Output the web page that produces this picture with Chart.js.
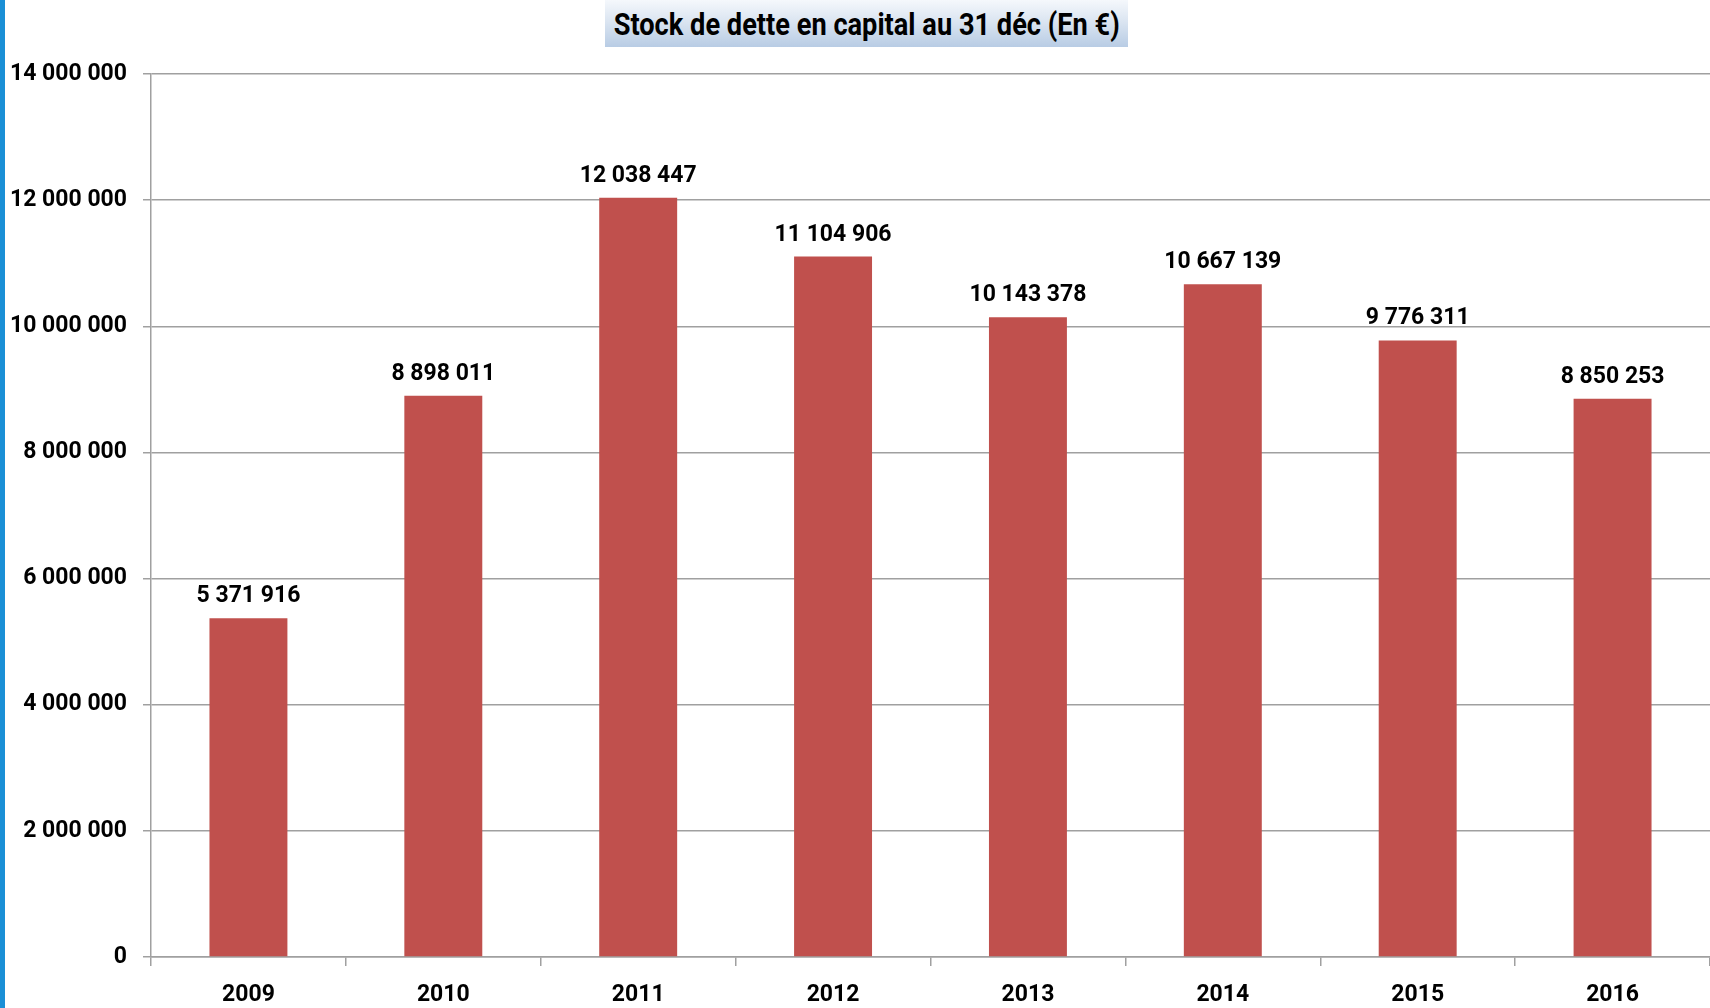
<!DOCTYPE html>
<html>
<head>
<meta charset="utf-8">
<script src="https://cdn.jsdelivr.net/npm/chart.js@4"></script>
<style>
  html, body { margin: 0; padding: 0; background: #fff; }
  #wrap { position: relative; width: 1710px; height: 1008px; overflow: hidden; }
  #edge { position: absolute; left: 0; top: 0; width: 5px; height: 1008px; background: #1a8fd6; }
  #title { position: absolute; left: 605px; top: 0; width: 523px; height: 47px;
    background: linear-gradient(to bottom, #f5f8fc 0%, #dbe5f1 45%, #b8cce4 100%);
    display: flex; justify-content: center; align-items: center; overflow: visible; }
  #title span { font-family: Roboto, sans-serif; font-weight: bold; font-size: 32px; color: #000;
    white-space: nowrap; display: inline-block; transform: scaleX(0.85); transform-origin: center; }
  canvas { position: absolute; left: 0; top: 0; }
</style>
</head>
<body>
<div id="wrap">
  <canvas id="c" width="1710" height="1008"></canvas>
  <div id="edge"></div>
  <div id="title"><span>Stock de dette en capital au 31 déc (En €)</span></div>
</div>
<script>
const categories = ["2009", "2010", "2011", "2012", "2013", "2014", "2015", "2016"];
const stockValues = [5371916, 8898011, 12038447, 11104906, 10143378, 10667139, 9776311, 8850253];
const yTickMax = 14000000;
const yTickStep = 2000000;

const FONT = 'Roboto, sans-serif';
function fmt(n) { return String(Math.round(n)).replace(/\B(?=(\d{3})+(?!\d))/g, ' '); }

const labelPlugin = {
  id: 'barLabels',
  afterDatasetsDraw(chart) {
    const ctx = chart.ctx;
    const meta = chart.getDatasetMeta(0);
    ctx.save();
    ctx.font = 'bold 23px ' + FONT;
    ctx.fillStyle = '#000';
    ctx.textAlign = 'center';
    ctx.textBaseline = 'alphabetic';
    meta.data.forEach((bar, i) => {
      ctx.fillText(fmt(chart.data.datasets[0].data[i]), bar.x, bar.y - 16);
    });
    ctx.restore();
  }
};

new Chart(document.getElementById('c'), {
  type: 'bar',
  data: {
    labels: categories,
    datasets: [{
      data: stockValues,
      backgroundColor: '#c0504d',
      borderWidth: 0,
      categoryPercentage: 1.0,
      barPercentage: 0.4
    }]
  },
  options: {
    responsive: false,
    animation: false,
    layout: { padding: { top: 74, left: 0, right: 0, bottom: 0 } },
    plugins: { legend: { display: false }, title: { display: false }, tooltip: { enabled: false } },
    scales: {
      x: {
        afterFit(scale) { scale.height = 51; },
        grid: { display: true, drawOnChartArea: false, drawTicks: true, tickLength: 9, color: '#a0a0a0', lineWidth: 1.5, offset: true },
        border: { display: true, color: '#a0a0a0', width: 1.5 },
        ticks: { color: '#000', font: { family: FONT, size: 23, weight: 'bold' }, padding: 15, maxRotation: 0 }
      },
      y: {
        min: 0,
        max: yTickMax,
        afterFit(scale) { scale.width = 151; },
        grid: { color: '#a0a0a0', lineWidth: 1.5, drawTicks: true, tickLength: 8 },
        border: { display: true, color: '#a0a0a0', width: 1.5 },
        ticks: { stepSize: yTickStep, color: '#000', font: { family: FONT, size: 23, weight: 'bold' }, padding: 16,
          callback: (v) => fmt(v) }
      }
    }
  },
  plugins: [labelPlugin]
});
</script>
</body>
</html>
